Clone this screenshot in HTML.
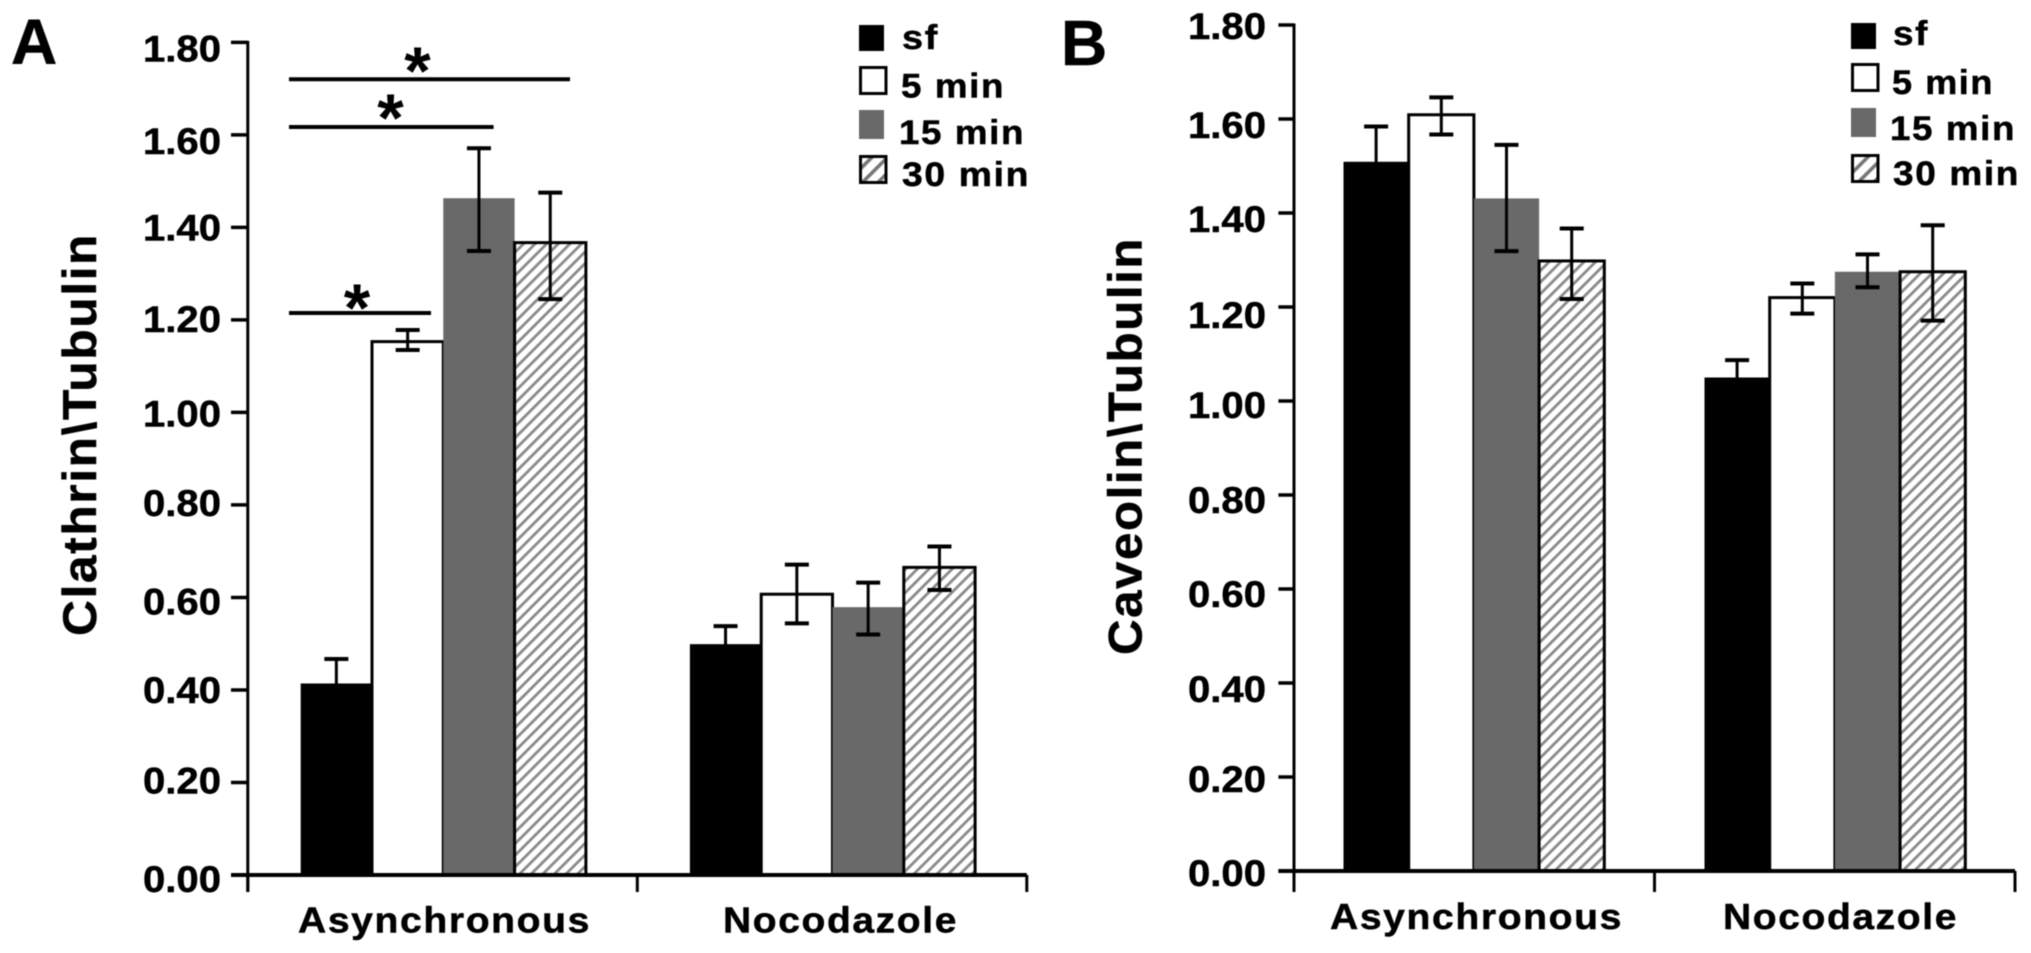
<!DOCTYPE html>
<html lang="en">
<head>
<meta charset="utf-8">
<title>Clathrin and Caveolin to Tubulin ratios</title>
<style>
html,body{margin:0;padding:0;background:#fff;width:2031px;height:953px;overflow:hidden}
svg{display:block;filter:blur(0.6px)}
text{font-family:"Liberation Sans",Arial,sans-serif;font-weight:bold;fill:#000;stroke:#000;stroke-width:0.5px}
.spaced{letter-spacing:1.5px}
</style>
</head>
<body>
<svg id="figure" xmlns="http://www.w3.org/2000/svg" width="2031" height="953" viewBox="0 0 2031 953">
<defs>
<pattern id="hatch" patternUnits="userSpaceOnUse" width="8.2" height="8.2" patternTransform="rotate(45)">
<rect width="8.2" height="8.2" fill="#fff"></rect>
<rect x="0" y="0" width="2.8" height="8.2" fill="#8a8a8a"></rect>
</pattern>
<pattern id="hatch-legend" patternUnits="userSpaceOnUse" width="11" height="11" patternTransform="rotate(45)">
<rect width="11" height="11" fill="#fff"></rect>
<rect x="0" y="0" width="3.6" height="11" fill="#777"></rect>
</pattern>
</defs>
<rect width="2031" height="953" fill="#fff"></rect>
</svg>
<script>
// ---- shared data ----
const groupNames = ["Asynchronous", "Nocodazole"];
const seriesNames = ["sf", "5 min", "15 min", "30 min"];
const tickLabels = ["0.00", "0.20", "0.40", "0.60", "0.80", "1.00", "1.20", "1.40", "1.60", "1.80"];
const tickValues = [0, 0.2, 0.4, 0.6, 0.8, 1.0, 1.2, 1.4, 1.6, 1.8];

// ---- panel A: Clathrin\Tubulin ----
const clathrinAsyncMean = [0.414, 1.153, 1.463, 1.367];
const clathrinAsyncUpper = [0.467, 1.178, 1.571, 1.475];
const clathrinAsyncLower = [0.361, 1.135, 1.349, 1.245];
const clathrinNocoMean = [0.499, 0.607, 0.579, 0.665];
const clathrinNocoUpper = [0.538, 0.671, 0.632, 0.710];
const clathrinNocoLower = [0.460, 0.544, 0.520, 0.616];

// ---- panel B: Caveolin\Tubulin ----
const caveolinAsyncMean = [1.509, 1.609, 1.431, 1.298];
const caveolinAsyncUpper = [1.584, 1.646, 1.545, 1.367];
const caveolinAsyncLower = [1.434, 1.567, 1.319, 1.217];
const caveolinNocoMean = [1.050, 1.220, 1.275, 1.275];
const caveolinNocoUpper = [1.087, 1.250, 1.312, 1.374];
const caveolinNocoLower = [1.013, 1.186, 1.242, 1.171];

const svg = document.getElementById('figure');
const NS = 'http://www.w3.org/2000/svg';

function mk(tag, attrs, parent) {
  const el = document.createElementNS(NS, tag);
  for (const k in attrs) el.setAttribute(k, attrs[k]);
  (parent || svg).appendChild(el);
  return el;
}
function label(str, x, y, size, len, parent, extra) {
  const el = mk('text', Object.assign({x: x, y: y, 'font-size': size}, extra || {}), parent);
  if (len) { el.setAttribute('textLength', len); el.setAttribute('lengthAdjust', 'spacingAndGlyphs'); }
  el.textContent = str;
  return el;
}
function line(x1, y1, x2, y2, w, parent) {
  return mk('line', {x1: x1, y1: y1, x2: x2, y2: y2, stroke: '#000', 'stroke-width': w}, parent);
}

function drawPanel(p) {
  const g = mk('g', {});
  
  
  const y = v => p.zeroY - v * p.unit;

  // bars and error bars
  p.groups.forEach((grp, gi) => {
    grp.mean.forEach((m, si) => {
      const x0 = grp.x + si * p.barW;
      const top = y(m);
      const base = p.zeroY;
      let bar;
      if (si === 0) bar = mk('rect', {x: x0, y: top, width: p.barW, height: base - top, fill: '#000'}, g);
      if (si === 1) bar = mk('rect', {x: x0, y: top, width: p.barW, height: base - top, fill: '#fff', stroke: '#000', 'stroke-width': 3}, g);
      if (si === 2) bar = mk('rect', {x: x0, y: top, width: p.barW, height: base - top, fill: '#696969'}, g);
      if (si === 3) bar = mk('rect', {x: x0, y: top, width: p.barW, height: base - top, fill: 'url(#hatch)', stroke: '#000', 'stroke-width': 3}, g);
      
      
    });
  });
  p.groups.forEach((grp, gi) => {
    grp.mean.forEach((m, si) => {
      const cx = grp.x + (si + 0.5) * p.barW;
      const eg = mk('g', {}, g);
      
      
      const hi = y(grp.upper[si]), lo = y(grp.lower[si]);
      line(cx, hi, cx, lo, 3, eg);
      line(cx - 12, hi, cx + 12, hi, 4, eg);
      line(cx - 12, lo, cx + 12, lo, 4, eg);
    });
  });

  // y axis
  const ya = mk('g', {}, g);
  
  
  line(p.axisX, y(1.8) - 1.5, p.axisX, p.tickBottom, 3, ya);
  tickValues.forEach((v, i) => {
    line(p.tickLeft, y(v), p.axisX, y(v), 3.5, ya);
    const t = label(tickLabels[i], p.labelX, y(v) + p.labelNudge[i], 37, 78, ya);
    
    
  });

  // x axis
  const xa = mk('g', {}, g);
  
  
  line(p.tickLeft, p.zeroY, p.axisRight, p.zeroY, 4, xa);
  const mid = (p.axisX + p.axisRight) / 2;
  [p.axisX, mid, p.axisRight].forEach(tx => line(tx, p.zeroY, tx, p.tickBottom, 3, xa));
  groupNames.forEach((n, i) => {
    const t = label(n, p.catX[i], p.catY, 36, p.catLen[i], xa, {class: 'spaced'});
    
    
  });

  // y title
  const yt = label(p.title, 0, 0, 47, p.titleLen, g, {class: 'spaced', transform: 'translate(' + p.titleX + ',' + p.titleBottom + ') rotate(-90)'});
  
  

  // panel letter
  const pl = label(p.letter, p.letterX, p.letterY, 64, null, g);
  
  

  // legend
  const lg = mk('g', {}, g);
  
  
  seriesNames.forEach((n, i) => {
    const l = p.legend[i];
    const e = mk('g', {}, lg);
    
    
    if (i === 0) mk('rect', {x: l.sx, y: l.sy, width: 25, height: 26, fill: '#000'}, e);
    if (i === 1) mk('rect', {x: l.sx + 1.5, y: l.sy + 1.5, width: 25.5, height: 26, fill: '#fff', stroke: '#000', 'stroke-width': 3}, e);
    if (i === 2) mk('rect', {x: l.sx, y: l.sy, width: 25, height: 29, fill: '#696969'}, e);
    if (i === 3) mk('rect', {x: l.sx + 1.5, y: l.sy + 1.5, width: 25.5, height: 26, fill: 'url(#hatch-legend)', stroke: '#000', 'stroke-width': 3}, e);
    label(n, l.tx, l.ty, 34, l.len, e, {class: 'spaced'});
  });
}

drawPanel({
  id: 'clathrin', letter: 'A', letterX: 11, letterY: 64,
  zeroY: 875, unit: 462.6, axisX: 247.8, tickLeft: 231, axisRight: 1026.8, tickBottom: 892,
  barW: 71.3,
  groups: [
    {x: 300.7, mean: clathrinAsyncMean, upper: clathrinAsyncUpper, lower: clathrinAsyncLower},
    {x: 689.9, mean: clathrinNocoMean, upper: clathrinNocoUpper, lower: clathrinNocoLower}
  ],
  labelX: 143, labelNudge: [17, 11, 13, 17, 11, 14, 12, 13, 19, 19],
  catX: [298, 723], catY: 932.7, catLen: [293, 235],
  title: 'Clathrin\\Tubulin', titleX: 96, titleBottom: 636, titleLen: 403,
  legend: [
    {sx: 859, sy: 25, tx: 902, ty: 49, len: 37},
    {sx: 859, sy: 66, tx: 901, ty: 97.7, len: 104},
    {sx: 859, sy: 110, tx: 899, ty: 144, len: 126},
    {sx: 859, sy: 155, tx: 902, ty: 186, len: 128}
  ]
});

drawPanel({
  id: 'caveolin', letter: 'B', letterX: 1061, letterY: 65,
  zeroY: 871, unit: 470, axisX: 1294, tickLeft: 1278.4, axisRight: 2015, tickBottom: 892,
  barW: 65.2,
  groups: [
    {x: 1343.5, mean: caveolinAsyncMean, upper: caveolinAsyncUpper, lower: caveolinAsyncLower},
    {x: 1704.5, mean: caveolinNocoMean, upper: caveolinNocoUpper, lower: caveolinNocoLower}
  ],
  labelX: 1188, labelNudge: [15, 15, 19, 18, 18, 17, 21, 19, 19, 14],
  catX: [1330, 1723], catY: 929, catLen: [293, 235],
  title: 'Caveolin\\Tubulin', titleX: 1141.5, titleBottom: 655, titleLen: 418,
  legend: [
    {sx: 1851, sy: 23, tx: 1893, ty: 45, len: 36},
    {sx: 1851, sy: 63, tx: 1892, ty: 94, len: 102},
    {sx: 1851, sy: 108, tx: 1890, ty: 140, len: 126},
    {sx: 1851, sy: 154, tx: 1893, ty: 185, len: 127}
  ]
});

// significance markers, panel A
const sigLabels = ["*", "*", "*"];
const sigGroup = mk('g', {});


[[289, 570, 79.3, 417.5, 61], [289, 493.6, 127, 390.5, 108], [289, 431, 313, 357, 298]].forEach((s, i) => {
  line(s[0], s[2], s[1], s[2], 4, sigGroup);
  const t = label(sigLabels[i], s[3], s[4] + 33, 68, null, sigGroup, {'text-anchor': 'middle', style: 'stroke-width:0'});
  
  
});
</script>
</body>
</html>
